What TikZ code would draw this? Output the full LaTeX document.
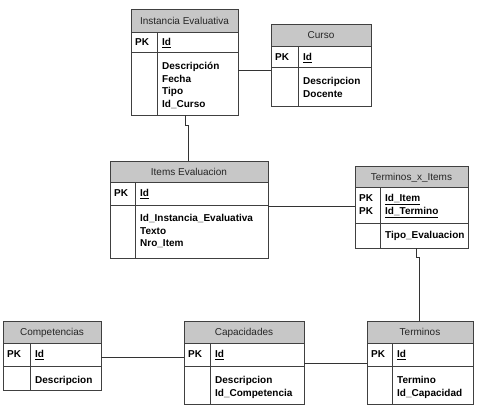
\documentclass[tikz,border=0pt]{standalone}
\usepackage{fontspec}
\setmainfont{Liberation Sans}
\usetikzlibrary{fit}
\tikzset{
  tbl/.style={draw=black!75, line width=0.8pt, inner sep=0pt},
  sepline/.style={draw=black!75, line width=0.8pt},
  band/.style={fill=black!22},
  ttl/.style={font=\fontsize{10}{12}\selectfont, anchor=base, inner sep=0pt, text=black!85},
  fld/.style={font=\fontsize{10}{12}\selectfont\bfseries, anchor=base west, inner sep=0pt},
  link/.style={draw=black!80, line width=0.7pt}
}
% #1 name, #2 left, #3 right, #4 top, #5 title bottom, #6 pk bottom, #7 bottom, #8 divider, #9 title
\newcommand{\ertable}[9]{%
  \fill[band] (#2,#4) rectangle (#3,#5);
  \draw[sepline] (#2,#5) -- (#3,#5) (#2,#6) -- (#3,#6) (#8,#5) -- (#8,#7);
  \node[tbl, fit={(#2,#4) (#3,#7)}] (#1) {};
  \node[ttl] (#1-title) at ({(#2+#3)/2},{(#4+#5)/2+3.5}) {#9};
}
\begin{document}
\begin{tikzpicture}[x=1pt,y=-1pt]
\useasboundingbox[fill=white] (0,0) rectangle (483,410);

% Instancia Evaluativa
\ertable{inst}{131}{238}{9}{32}{52}{115}{157}{Instancia Evaluativa}
\node[fld] (inst-pk) at (135,45.5) {PK};
\node[fld] (inst-id) at (162,45.5) {\underline{Id}};
\node[fld] (inst-f1) at (162,69.5) {Descripción};
\node[fld] (inst-f2) at (162,82.2) {Fecha};
\node[fld] (inst-f3) at (162,94.9) {Tipo};
\node[fld] (inst-f4) at (162,107.6) {Id\_Curso};

% Curso
\ertable{curso}{271}{371}{24}{46}{67}{106}{298}{Curso}
\node[fld] (curso-pk) at (275,60.5) {PK};
\node[fld] (curso-id) at (303,60.5) {\underline{Id}};
\node[fld] (curso-f1) at (303,84.3) {Descripcion};
\node[fld] (curso-f2) at (303,97.0) {Docente};

% Items Evaluacion
\ertable{items}{110}{268}{161}{182}{205}{258}{135}{Items Evaluacion}
\node[fld] (items-pk) at (114,196.5) {PK};
\node[fld] (items-id) at (140,196.5) {\underline{Id}};
\node[fld] (items-f1) at (140,221.5) {Id\_Instancia\_Evaluativa};
\node[fld] (items-f2) at (140,234.2) {Texto};
\node[fld] (items-f3) at (140,246.9) {Nro\_Item};

% Terminos_x_Items
\ertable{txi}{355}{468}{166}{187}{223}{248}{380}{Terminos\_x\_Items}
\node[fld] (txi-pk1) at (359,201.5) {PK};
\node[fld] (txi-pk2) at (359,214.2) {PK};
\node[fld] (txi-id1) at (385,201.5) {\underline{Id\_Item}};
\node[fld] (txi-id2) at (385,214.2) {\underline{Id\_Termino}};
\node[fld] (txi-f1) at (385,238.5) {Tipo\_Evaluacion};

% Competencias
\ertable{comp}{3}{101}{321}{343}{366}{390}{30}{Competencias}
\node[fld] (comp-pk) at (7,357.5) {PK};
\node[fld] (comp-id) at (35,357.5) {\underline{Id}};
\node[fld] (comp-f1) at (35,383.5) {Descripcion};

% Capacidades
\ertable{cap}{184}{304}{321}{343}{366}{404}{210}{Capacidades}
\node[fld] (cap-pk) at (188,357.5) {PK};
\node[fld] (cap-id) at (215,357.5) {\underline{Id}};
\node[fld] (cap-f1) at (215,383.5) {Descripcion};
\node[fld] (cap-f2) at (215,396.2) {Id\_Competencia};

% Terminos
\ertable{term}{367}{473}{321}{343}{366}{404}{392}{Terminos}
\node[fld] (term-pk) at (371,357.5) {PK};
\node[fld] (term-id) at (397,357.5) {\underline{Id}};
\node[fld] (term-f1) at (397,383.5) {Termino};
\node[fld] (term-f2) at (397,396.2) {Id\_Capacidad};

% connectors
\draw[link] (inst.east |- 0,70) -- (curso.west |- 0,70);
\draw[link] (inst.south -| 185,0) -- (185,125) -- (188,125) -- (items.north -| 188,0);
\draw[link] (items.east |- 0,206) -- (txi.west |- 0,206);
\draw[link] (txi.south -| 416,0) -- (416,257) -- (419,257) -- (term.north -| 419,0);
\draw[link] (comp.east |- 0,357) -- (cap.west |- 0,357);
\draw[link] (cap.east |- 0,363) -- (term.west |- 0,363);
\end{tikzpicture}
\end{document}
